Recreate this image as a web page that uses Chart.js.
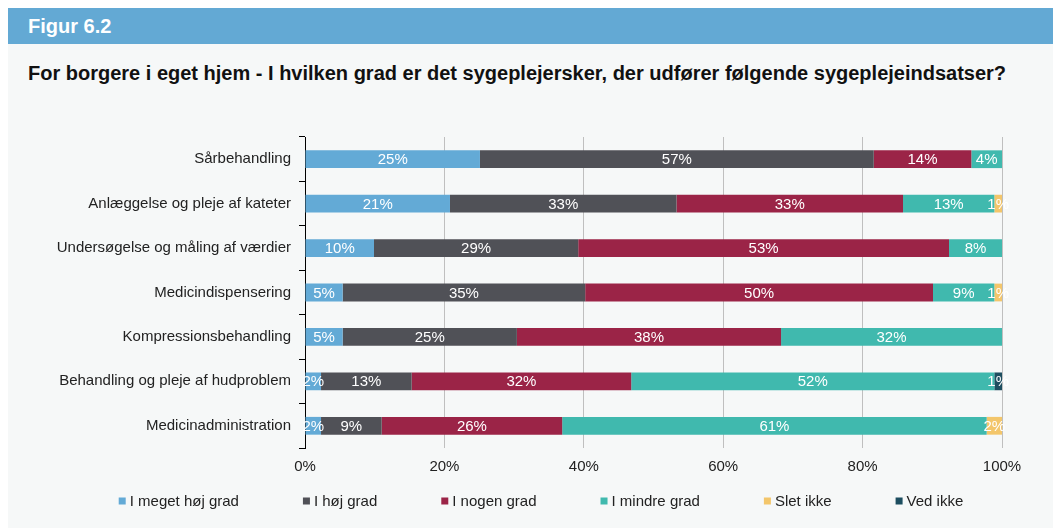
<!DOCTYPE html>
<html><head><meta charset="utf-8">
<script src="https://cdn.jsdelivr.net/npm/chart.js@4.4.1/dist/chart.umd.min.js"></script>
<style>
html,body{margin:0;padding:0;background:#fff;overflow:hidden;width:1053px;height:528px;}
#panel{position:absolute;left:8px;top:8px;width:1045px;height:520px;background:#f6f8f8;}
#hdr{position:absolute;left:0;top:0;width:1045px;height:36px;background:#63a9d4;color:#fff;font:bold 20px "Liberation Sans",Arial,sans-serif;line-height:36px;padding-left:20px;box-sizing:border-box;}
#title{position:absolute;left:20px;top:53px;font:bold 20px "Liberation Sans",Arial,sans-serif;color:#111;line-height:24px;white-space:nowrap;}
#wrap{position:absolute;left:0;top:112px;width:1045px;height:408px;}
</style></head>
<body>
<div id="panel">
  <div id="hdr">Figur 6.2</div>
  <div id="title">For borgere i eget hjem - I hvilken grad er det sygeplejersker, der udfører følgende sygeplejeindsatser?</div>
  <div id="wrap"><canvas id="c"></canvas></div>
</div>
<script>
const categories = ["Sårbehandling","Anlæggelse og pleje af kateter","Undersøgelse og måling af værdier","Medicindispensering","Kompressionsbehandling","Behandling og pleje af hudproblem","Medicinadministration"];
const seriesNames = ["I meget høj grad","I høj grad","I nogen grad","I mindre grad","Slet ikke","Ved ikke"];
const meget = [25.1, 20.8, 9.9, 5.4, 5.4, 2.3, 2.3];
const hoej   = [56.5, 32.5, 29.3, 34.8, 25.0, 13.0, 8.7];
const nogen  = [14.0, 32.5, 53.2, 49.9, 37.9, 31.5, 25.9];
const mindre = [4.4, 13.1, 7.6, 8.8, 31.7, 52.1, 60.9];
const slet   = [0, 1.1, 0, 1.1, 0, 0, 2.2];
const vedIkke= [0, 0, 0, 0, 0, 1.1, 0];
const xTicks = [0, 20, 40, 60, 80, 100];
const colors = ["#63aad6","#505157","#9b2447","#40b9ae","#f3c66b","#1d4e60"];
const seriesValues = [meget, hoej, nogen, mindre, slet, vedIkke];

Chart.defaults.font.family = '"Liberation Sans", Arial, Helvetica, sans-serif';
Chart.defaults.font.size = 15;
Chart.defaults.color = '#222';

const labelPlugin = {
  id: 'segLabels',
  afterDatasetsDraw(chart) {
    const ctx = chart.ctx;
    ctx.save();
    ctx.font = '15px "Liberation Sans", Arial, sans-serif';
    ctx.fillStyle = '#fff';
    ctx.textAlign = 'center';
    ctx.textBaseline = 'middle';
    chart.data.datasets.forEach((ds, i) => {
      const meta = chart.getDatasetMeta(i);
      meta.data.forEach((bar, j) => {
        const v = ds.data[j];
        if (!v) return;
        ctx.fillText(Math.round(v) + '%', (bar.x + bar.base) / 2, bar.y + 1);
      });
    });
    ctx.restore();
  }
};

const legendPlugin = {
  id: 'customLegend',
  afterDraw(chart) {
    const ctx = chart.ctx;
    ctx.save();
    ctx.font = '15px "Liberation Sans", Arial, sans-serif';
    ctx.textBaseline = 'middle';
    const box = 7, gapText = 4, gapItem = 64;
    const items = chart.data.datasets.map(d => ({ label: d.label, color: d.backgroundColor, w: ctx.measureText(d.label).width }));
    const total = items.reduce((s, it) => s + box + gapText + it.w, 0) + gapItem * (items.length - 1);
    const cx = 533, cy = 381;
    let x = cx - total / 2;
    items.forEach(it => {
      ctx.fillStyle = it.color;
      ctx.fillRect(x, cy - box / 2, box, box);
      ctx.fillStyle = '#222';
      ctx.textAlign = 'left';
      ctx.fillText(it.label, x + box + gapText, cy + 1);
      x += box + gapText + it.w + gapItem;
    });
    ctx.restore();
  }
};

new Chart(document.getElementById('c'), {
  type: 'bar',
  data: {
    labels: categories,
    datasets: seriesNames.map((n, i) => ({
      label: n,
      data: seriesValues[i],
      backgroundColor: colors[i],
      borderWidth: 0,
      barPercentage: 0.4,
      categoryPercentage: 1.0
    }))
  },
  options: {
    indexAxis: 'y',
    responsive: true,
    maintainAspectRatio: false,
    animation: false,
    layout: { padding: { top: 15, right: 51, bottom: 50, left: 0 } },
    plugins: { legend: { display: false }, tooltip: { enabled: false } },
    scales: {
      x: {
        stacked: true, min: 0, max: 100,
        afterBuildTicks(scale) { scale.ticks = xTicks.map(v => ({ value: v })); },
        afterFit(scale) { scale.height = 30; },
        ticks: { callback: v => v + '%', padding: 10, color: '#222', font: { size: 15 } },
        grid: { color: '#bfbfbf', lineWidth: 1, drawTicks: false },
        border: { display: false }
      },
      y: {
        stacked: true,
        afterFit(scale) { scale.width = 297; },
        ticks: { padding: 8, color: '#222', font: { size: 15 } },
        grid: { drawOnChartArea: false, drawTicks: true, tickLength: 6, color: '#000', offset: true },
        border: { display: true, color: '#000', width: 1 }
      }
    }
  },
  plugins: [labelPlugin, legendPlugin]
});
</script>
</body></html>
